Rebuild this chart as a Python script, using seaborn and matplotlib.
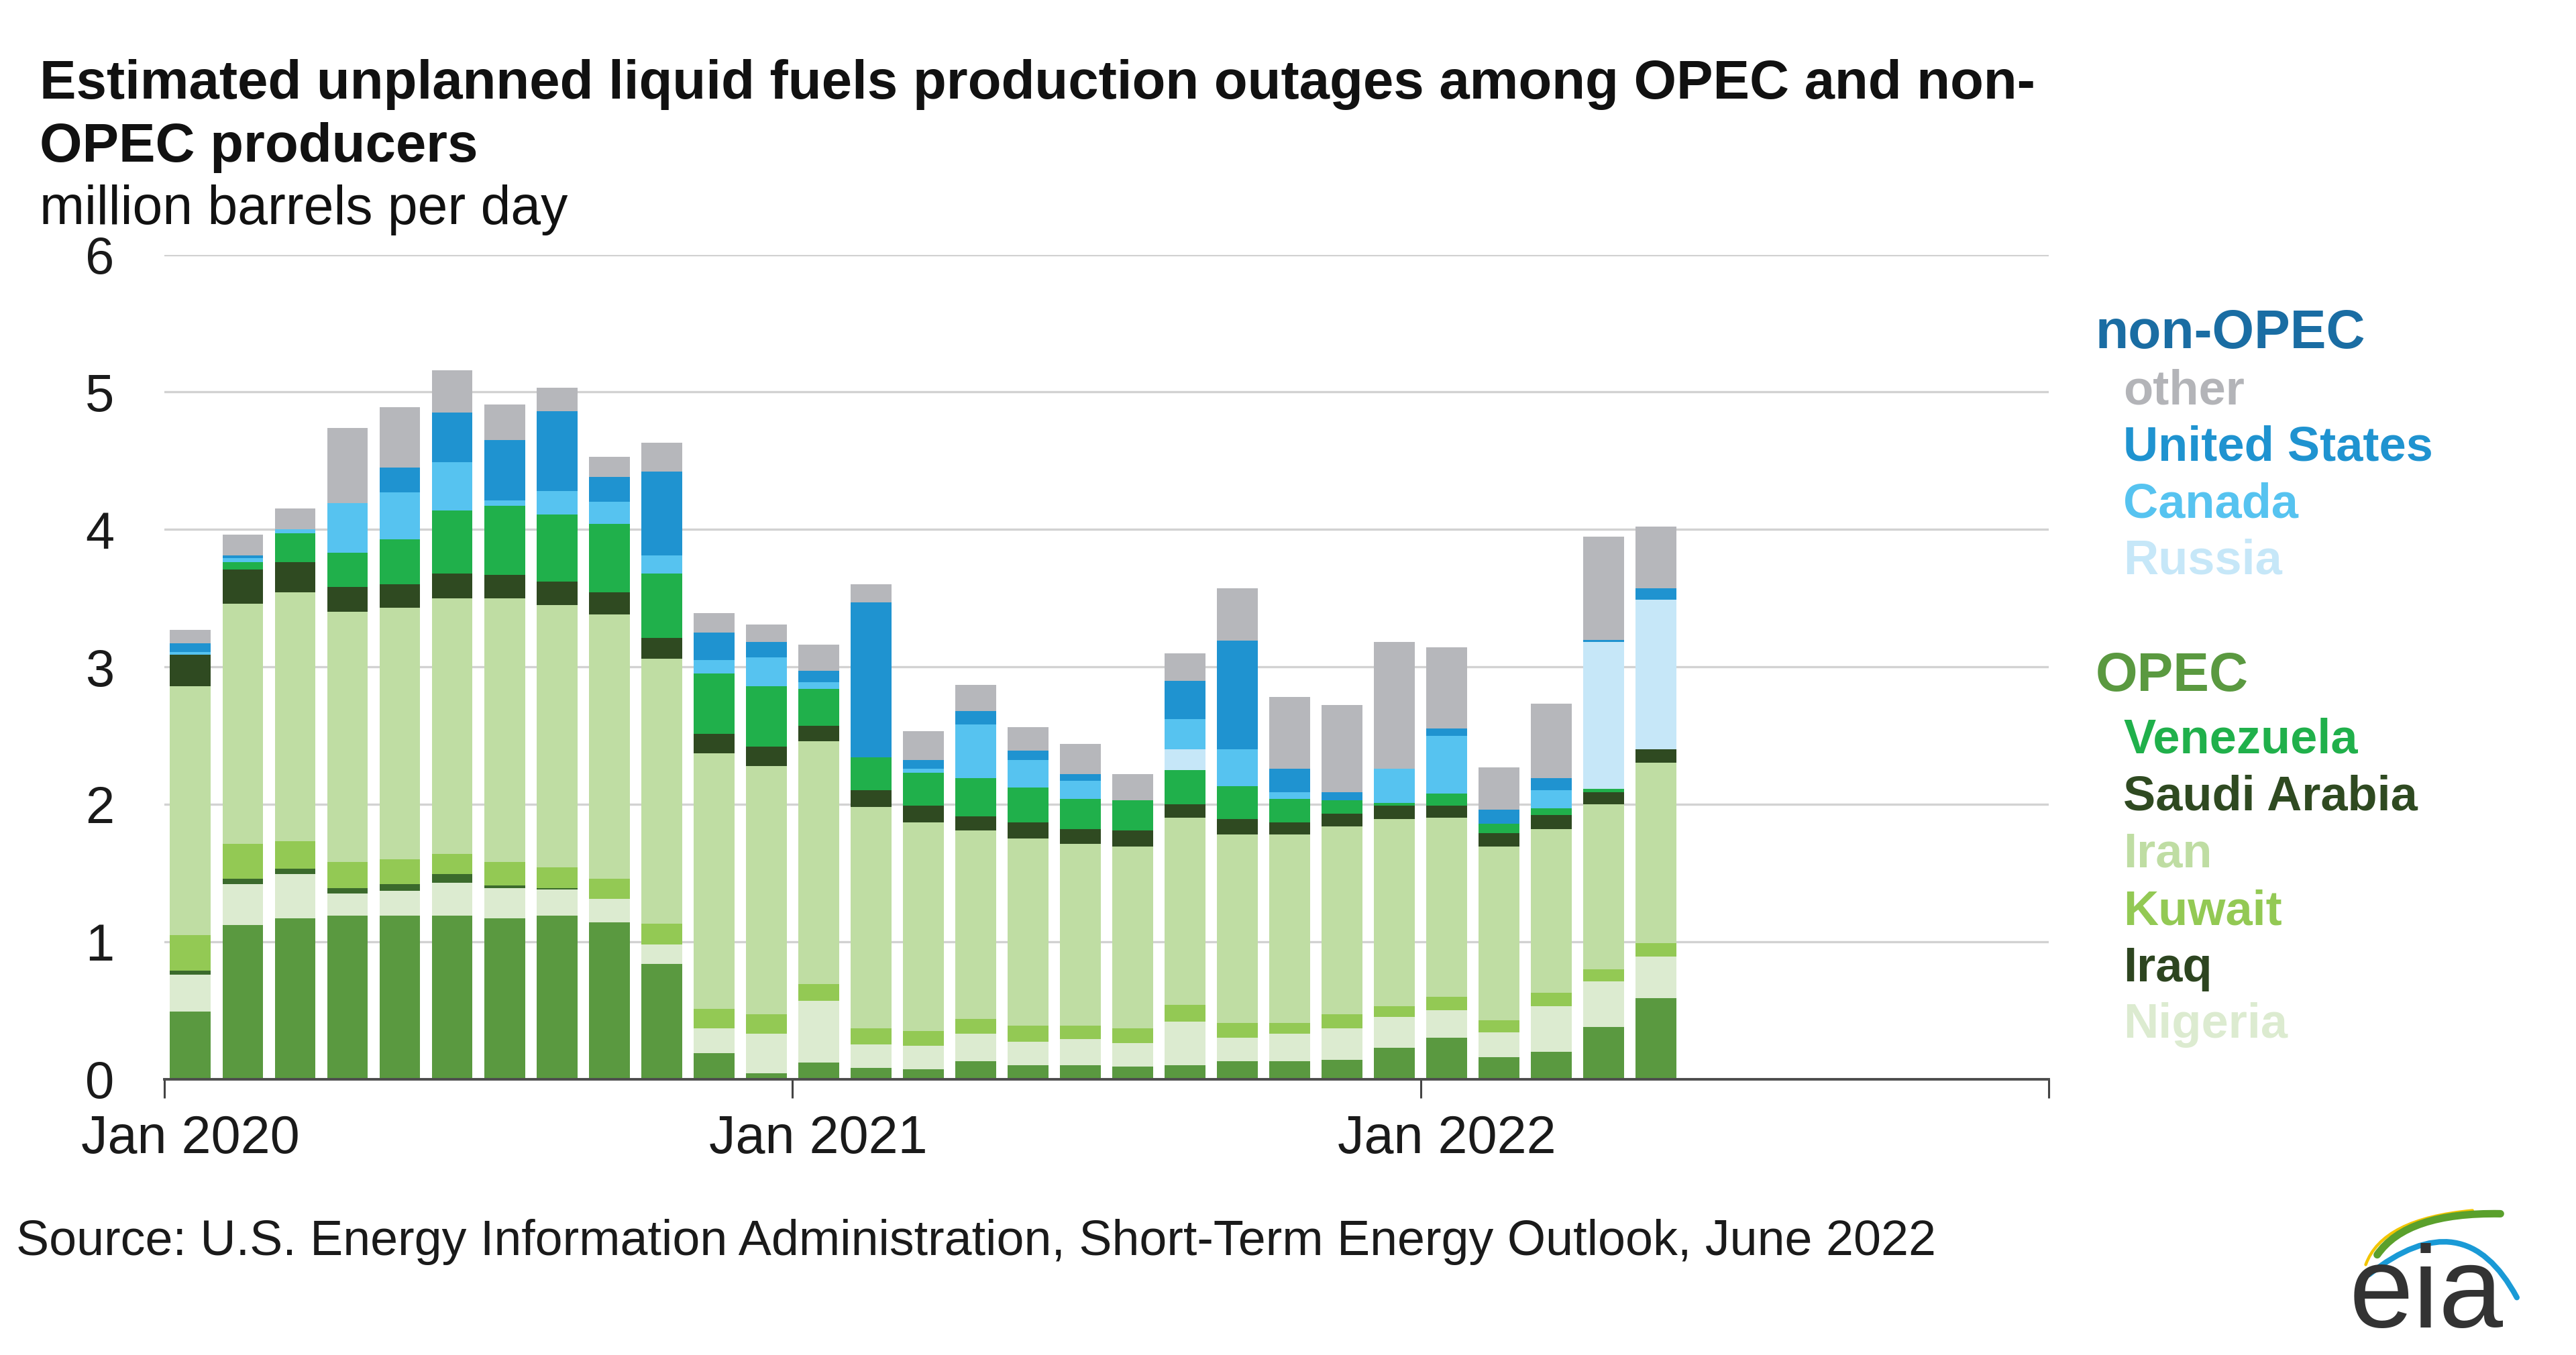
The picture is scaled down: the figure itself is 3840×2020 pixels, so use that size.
import numpy as np
import pandas as pd
import matplotlib
matplotlib.use("Agg")
import matplotlib.pyplot as plt
from matplotlib.path import Path
from matplotlib.patches import PathPatch
import seaborn as sns

# ---------------- data (million barrels per day) ----------------
months = pd.date_range("2020-01-01", "2022-05-01", freq="MS")
libya = [0.49, 1.12, 1.17, 1.19, 1.19, 1.19, 1.17, 1.19, 1.14, 0.84, 0.19, 0.04,
         0.12, 0.08, 0.07, 0.13, 0.10, 0.10, 0.09, 0.10, 0.13, 0.13, 0.14, 0.23,
         0.30, 0.16, 0.20, 0.38, 0.59]
nigeria = [0.27, 0.30, 0.32, 0.16, 0.18, 0.24, 0.22, 0.19, 0.17, 0.14, 0.18, 0.29,
           0.45, 0.17, 0.17, 0.20, 0.17, 0.19, 0.17, 0.32, 0.17, 0.20, 0.23, 0.22,
           0.20, 0.18, 0.33, 0.33, 0.30]
iraq = [0.03, 0.04, 0.04, 0.04, 0.05, 0.06, 0.02, 0.01, 0.0, 0.0, 0.0, 0.0,
        0.0, 0.0, 0.0, 0.0, 0.0, 0.0, 0.0, 0.0, 0.0, 0.0, 0.0, 0.0,
        0.0, 0.0, 0.0, 0.0, 0.0]
kuwait = [0.26, 0.25, 0.20, 0.19, 0.18, 0.15, 0.17, 0.15, 0.15, 0.15, 0.14, 0.14,
          0.12, 0.12, 0.11, 0.11, 0.12, 0.10, 0.11, 0.12, 0.11, 0.08, 0.10, 0.08,
          0.10, 0.09, 0.10, 0.09, 0.10]
iran = [1.81, 1.75, 1.81, 1.82, 1.83, 1.86, 1.92, 1.91, 1.92, 1.93, 1.86, 1.81,
        1.77, 1.61, 1.52, 1.37, 1.36, 1.32, 1.32, 1.36, 1.37, 1.37, 1.37, 1.36,
        1.30, 1.26, 1.19, 1.20, 1.31]
saudi = [0.23, 0.25, 0.22, 0.18, 0.17, 0.18, 0.17, 0.17, 0.16, 0.15, 0.14, 0.14,
         0.11, 0.12, 0.12, 0.10, 0.12, 0.11, 0.12, 0.10, 0.11, 0.09, 0.09, 0.10,
         0.09, 0.10, 0.10, 0.09, 0.10]
venezuela = [0.0, 0.05, 0.21, 0.25, 0.33, 0.46, 0.50, 0.49, 0.50, 0.47, 0.44, 0.44,
             0.27, 0.24, 0.24, 0.28, 0.25, 0.22, 0.22, 0.25, 0.24, 0.17, 0.10, 0.02,
             0.09, 0.07, 0.05, 0.02, 0.0]
russia = [0.0, 0.0, 0.0, 0.0, 0.0, 0.0, 0.0, 0.0, 0.0, 0.0, 0.0, 0.0,
          0.0, 0.0, 0.0, 0.0, 0.0, 0.0, 0.0, 0.15, 0.0, 0.0, 0.0, 0.0,
          0.0, 0.0, 0.0, 1.07, 1.09]
canada = [0.02, 0.03, 0.03, 0.36, 0.34, 0.35, 0.04, 0.17, 0.16, 0.13, 0.10, 0.21,
          0.05, 0.0, 0.03, 0.39, 0.20, 0.13, 0.0, 0.22, 0.27, 0.05, 0.0, 0.25,
          0.42, 0.0, 0.13, 0.0, 0.0]
us = [0.06, 0.02, 0.0, 0.0, 0.18, 0.36, 0.44, 0.58, 0.18, 0.61, 0.20, 0.11,
      0.08, 1.13, 0.06, 0.10, 0.07, 0.05, 0.0, 0.28, 0.79, 0.17, 0.06, 0.0,
      0.05, 0.10, 0.09, 0.015, 0.08]
other = [0.10, 0.15, 0.15, 0.55, 0.44, 0.31, 0.26, 0.17, 0.15, 0.21, 0.14, 0.13,
         0.19, 0.13, 0.21, 0.19, 0.17, 0.22, 0.19, 0.20, 0.38, 0.52, 0.63, 0.92,
         0.59, 0.31, 0.54, 0.75, 0.45]

# stacking order, bottom -> top
series_names = ["Libya", "Nigeria", "Iraq", "Kuwait", "Iran", "Saudi Arabia",
                "Venezuela", "Russia", "Canada", "United States", "other"]
series_values = [libya, nigeria, iraq, kuwait, iran, saudi, venezuela,
                 russia, canada, us, other]
series_colors = ["#5a9940", "#dcebd0", "#3b6a2c", "#93c954", "#bfdda3", "#2f4a21",
                 "#20b04b", "#c6e7f8", "#56c3f0", "#1f93d0", "#b6b7bb"]

x_tick_labels = ["Jan 2020", "Jan 2021", "Jan 2022"]
y_ticks = [0, 1, 2, 3, 4, 5, 6]

# ---------------- style ----------------
sns.set_theme(style="white")
plt.rcParams["font.family"] = ["Liberation Sans", "DejaVu Sans"]

fig = plt.figure(figsize=(19.2, 10.1), dpi=200)
ax = fig.add_axes([100 / 1568, 1 - 657 / 825, (1247 - 100) / 1568, (657 - 155) / 825])

# month position: first month of 2020 = 0 ... bar centred in month slot
start = pd.Timestamp("2020-01-01")
month_idx = np.array([(d.year - start.year) * 12 + (d.month - 1) for d in months])
xpos = month_idx + 0.5

df = pd.DataFrame({"x": xpos})
cum = np.zeros(len(months))
for name, vals in zip(series_names, series_values):
    cum = cum + np.array(vals)
    df[name] = cum.copy()

# draw tallest cumulative layer first, then overlay lower layers
for name, color in list(zip(series_names, series_colors))[::-1]:
    sns.barplot(data=df, x="x", y=name, native_scale=True, orient="x",
                width=0.78, color=color, saturation=1, errorbar=None,
                edgecolor="none", linewidth=0, ax=ax)

ax.set_xlim(0, 36)
ax.set_ylim(0, 6)
ax.set_xlabel("")
ax.set_ylabel("")

ax.set_yticks(y_ticks)
ax.set_yticklabels([str(v) for v in y_ticks])
ax.tick_params(axis="y", length=0, pad=27, labelsize=28, labelcolor="#1a1a1a")
ax.yaxis.grid(True, color="#d2d2d2", linewidth=1.2)
ax.xaxis.grid(False)
ax.set_axisbelow(True)

ax.set_xticks([0, 12, 24, 36])
ax.set_xticklabels(["", "", "", ""])
ax.tick_params(axis="x", which="major", direction="out", length=10, width=1.1,
               color="#444444", bottom=True)
ax.set_xticks([0.5, 12.5, 24.5], minor=True)
ax.set_xticklabels(x_tick_labels, minor=True)
ax.tick_params(axis="x", which="minor", length=0, pad=19, labelsize=28.5,
               labelcolor="#1a1a1a", bottom=True)

for s in ["left", "right", "top"]:
    ax.spines[s].set_visible(False)
ax.spines["bottom"].set_color("#4d4d4d")
ax.spines["bottom"].set_linewidth(1.4)

# ---------------- titles ----------------
fig.text(0.0153, 1 - 60 / 825,
         "Estimated unplanned liquid fuels production outages among OPEC and non-",
         fontsize=29.4, fontweight="bold", color="#111111", va="baseline", ha="left")
fig.text(0.0153, 1 - 98.5 / 825, "OPEC producers",
         fontsize=29.4, fontweight="bold", color="#111111", va="baseline", ha="left")
fig.text(0.0153, 1 - 136.5 / 825, "million barrels per day",
         fontsize=29, color="#111111", va="baseline", ha="left")

# ---------------- legend (text style) ----------------
hx = 1275.5 / 1568
ix = 1292.5 / 1568
fig.text(hx, 1 - 212 / 825, "non-OPEC", fontsize=29, fontweight="bold",
         color="#1a6da3", va="baseline", ha="left")
nonopec_items = [("other", "#b3b4b8", 246), ("United States", "#1f93d0", 280.5),
                 ("Canada", "#56c3f0", 315), ("Russia", "#c6e7f8", 349.5)]
for lab, col, yb in nonopec_items:
    fig.text(ix, 1 - yb / 825, lab, fontsize=26, fontweight="bold", color=col,
             va="baseline", ha="left")
fig.text(hx, 1 - 420.5 / 825, "OPEC", fontsize=29, fontweight="bold",
         color="#5a9940", va="baseline", ha="left")
opec_items = [("Venezuela", "#20b04b", 458.5), ("Saudi Arabia", "#2f4a21", 493),
              ("Iran", "#bfdda3", 528), ("Kuwait", "#93c954", 563),
              ("Iraq", "#2d4520", 597.5), ("Nigeria", "#dcebd0", 632)]
for lab, col, yb in opec_items:
    fig.text(ix, 1 - yb / 825, lab, fontsize=26, fontweight="bold", color=col,
             va="baseline", ha="left")

# ---------------- source ----------------
fig.text(10 / 1568, 1 - 764 / 825,
         "Source: U.S. Energy Information Administration, Short-Term Energy Outlook, June 2022",
         fontsize=26.5, color="#1a1a1a", va="baseline", ha="left")

# ---------------- eia logo ----------------
lax = fig.add_axes([1425 / 1568, 1 - 815 / 825, 120 / 1568, 90 / 825])
lax.set_xlim(1425, 1545)
lax.set_ylim(815, 725)
lax.axis("off")
lax.text(1430, 808, "eia", fontsize=62, color="#333333", va="baseline", ha="left")
for (p0, pc, p1), col, lw in [
    (((1440, 770), (1450, 742), (1505, 737)), "#f2c500", 1.6),
    (((1447, 764), (1465, 738), (1522, 739)), "#5aa02c", 4.0),
    (((1442, 776), (1500, 730), (1532, 790)), "#1a9ad6", 3.0),
]:
    path = Path([p0, pc, p1], [Path.MOVETO, Path.CURVE3, Path.CURVE3])
    lax.add_patch(PathPatch(path, facecolor="none", edgecolor=col, lw=lw,
                            capstyle="round"))

fig.savefig("out.png", dpi=200)
